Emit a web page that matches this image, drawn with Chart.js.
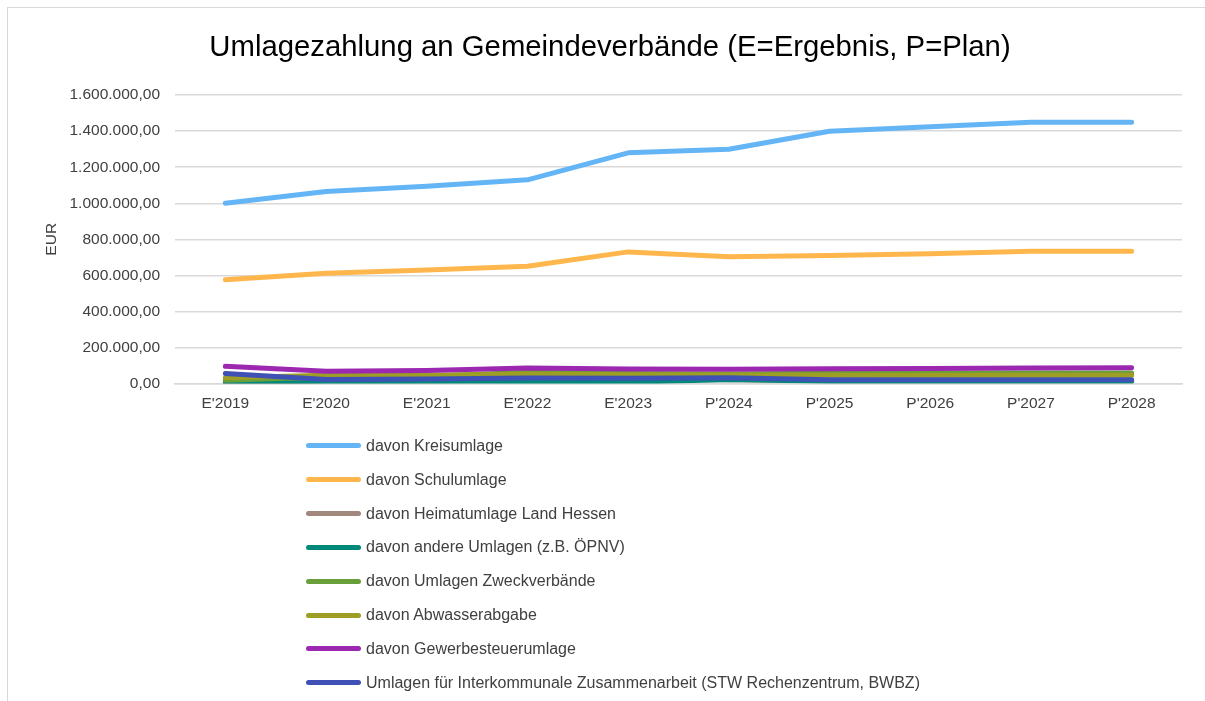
<!DOCTYPE html>
<html lang="de">
<head>
    <meta charset="UTF-8">
    <title>Umlagezahlung an Gemeindeverbände</title>
    <script src="https://cdn.jsdelivr.net/npm/chart.js"></script>
    <style>
        body {
            margin: 0;
            background: #fff;
            font-family: "Liberation Sans", Arial, sans-serif;
        }
        #wrap {
            position: relative;
            width: 1205px;
            height: 701px;
            overflow: hidden;
        }
        #frame {
            position: absolute;
            left: 7px;
            top: 7px;
            width: 1220px;
            height: 720px;
            border: 1.5px solid #d9d9d9;
        }
        #umlageChart {
            position: absolute;
            left: 0;
            top: 0;
        }
        #legend {
            position: absolute;
            left: 306px;
            top: 429px;
            margin: 0;
            padding: 0;
            list-style: none;
        }
        #legend li {
            height: 33.85px;
            display: flex;
            align-items: center;
            font-size: 16px;
            color: #404040;
        }
        #legend span {
            display: inline-block;
            width: 55px;
            height: 5px;
            border-radius: 3px;
            margin-right: 5px;
        }
    </style>
</head>
<body>
    <div id="wrap">
        <div id="frame"></div>
        <canvas id="umlageChart" width="1205" height="701"></canvas>
        <ul id="legend"></ul>
    </div>

    <script>
        const years = ["E'2019", "E'2020", "E'2021", "E'2022", "E'2023", "P'2024", "P'2025", "P'2026", "P'2027", "P'2028"];

        const seriesNames = [
            'davon Kreisumlage',
            'davon Schulumlage',
            'davon Heimatumlage Land Hessen',
            'davon andere Umlagen (z.B. ÖPNV)',
            'davon Umlagen Zweckverbände',
            'davon Abwasserabgabe',
            'davon Gewerbesteuerumlage',
            'Umlagen für Interkommunale Zusammenarbeit (STW Rechenzentrum, BWBZ)'
        ];
        const seriesColors = ['#64b5f6', '#ffb74d', '#a1887f', '#00897b', '#689f38', '#9e9d24', '#9c27b0', '#3f51b5'];

        const kreisumlage    = [1000000, 1065000, 1095000, 1130000, 1280000, 1300000, 1400000, 1425000, 1450000, 1450000];
        const schulumlage    = [575000, 612000, 630000, 650000, 730000, 703000, 710000, 720000, 733000, 733000];
        const heimatumlage   = [0, 15000, 15000, 20000, 20000, 20000, 15000, 15000, 15000, 15000];
        const andereUmlagen  = [8000, 2000, 3000, 8000, 6000, 22000, 12000, 12000, 12000, 12000];
        const zweckverbaende = [18000, 35000, 38000, 62000, 55000, 52000, 57000, 57000, 58000, 58000];
        const abwasser       = [32000, 45000, 45000, 52000, 48000, 46000, 45000, 45000, 45000, 45000];
        const gewerbesteuer  = [95000, 68000, 72000, 85000, 80000, 78000, 81000, 83000, 85000, 87000];
        const interkommunal  = [55000, 22000, 25000, 30000, 28000, 32000, 20000, 20000, 20000, 20000];

        const seriesValues = [kreisumlage, schulumlage, heimatumlage, andereUmlagen, zweckverbaende, abwasser, gewerbesteuer, interkommunal];

        const yTicks = [0, 200000, 400000, 600000, 800000, 1000000, 1200000, 1400000, 1600000];

        // German number format, e.g. 1.600.000,00
        function formatEur(v) {
            const parts = Math.round(v).toString().replace(/\B(?=(\d{3})+(?!\d))/g, '.');
            return parts + ',00';
        }

        const datasets = seriesNames.map((name, i) => ({
            label: name,
            data: seriesValues[i],
            borderColor: seriesColors[i],
            backgroundColor: seriesColors[i],
            borderWidth: 5,
            borderCapStyle: 'round',
            borderJoinStyle: 'round',
            pointRadius: 0,
            pointHoverRadius: 0,
            fill: false,
            tension: 0,
            // Excel draws later series on top
            order: seriesNames.length - i
        }));

        const ctx = document.getElementById('umlageChart').getContext('2d');
        const chart = new Chart(ctx, {
            type: 'line',
            data: { labels: years, datasets: datasets },
            options: {
                responsive: false,
                animation: false,
                layout: {
                    padding: { left: 38, right: 23, top: 0, bottom: 277 }
                },
                plugins: {
                    legend: { display: false },
                    tooltip: { enabled: false },
                    title: {
                        display: true,
                        text: 'Umlagezahlung an Gemeindeverbände (E=Ergebnis, P=Plan)',
                        color: '#000',
                        font: { family: '"Liberation Sans", Arial, sans-serif', size: 29.3, weight: 'normal' },
                        padding: { top: 30, bottom: 30 }
                    }
                },
                scales: {
                    x: {
                        offset: true,
                        grid: { display: false, drawTicks: false },
                        border: { display: true, color: '#d9d9d9', width: 1.5 },
                        ticks: {
                            color: '#404040',
                            padding: 11,
                            maxRotation: 0,
                            font: { family: '"Liberation Sans", Arial, sans-serif', size: 15.5 }
                        }
                    },
                    y: {
                        min: 0,
                        max: 1600000,
                        afterFit: scale => { scale.width = 137; },
                        afterBuildTicks: scale => { scale.ticks = yTicks.map(v => ({ value: v })); },
                        grid: { color: '#d9d9d9', lineWidth: 1.5, drawTicks: false },
                        border: { display: false },
                        title: {
                            display: true,
                            text: 'EUR',
                            color: '#404040',
                            font: { family: '"Liberation Sans", Arial, sans-serif', size: 15.5 }
                        },
                        ticks: {
                            color: '#404040',
                            padding: 15,
                            font: { family: '"Liberation Sans", Arial, sans-serif', size: 15.5 },
                            callback: v => formatEur(v)
                        }
                    }
                }
            }
        });

        const legend = document.getElementById('legend');
        chart.data.datasets.forEach(ds => {
            const li = document.createElement('li');
            const sw = document.createElement('span');
            sw.style.background = ds.borderColor;
            li.appendChild(sw);
            li.appendChild(document.createTextNode(ds.label));
            legend.appendChild(li);
        });
    </script>
</body>
</html>
